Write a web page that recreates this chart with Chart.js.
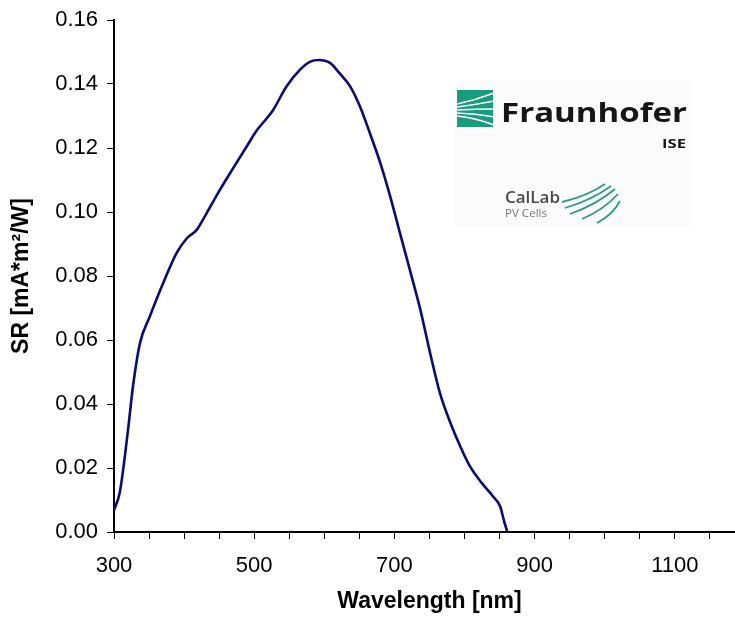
<!DOCTYPE html>
<html>
<head>
<meta charset="utf-8">
<script src="https://cdn.jsdelivr.net/npm/chart.js@4.4.1/dist/chart.umd.min.js"></script>
<style>
  html, body { margin: 0; padding: 0; background: #fff; overflow: hidden; }
  #wrap { width: 759px; height: 617px; }
</style>
</head>
<body>
<div id="wrap"><canvas id="myChart" width="759" height="617"></canvas></div>
<script>
// spectral response
var wavelengths = [300, 308, 313, 320, 327, 337, 351, 370, 389, 404, 418, 432, 451, 470, 489, 504,
  518, 527, 546, 565, 580, 592, 608, 622, 637, 651, 665, 680, 694, 708, 722, 737, 751, 765,
  780, 794, 808, 825, 841, 851, 856, 861];
var srValues = [0.0068, 0.0121, 0.0194, 0.0319, 0.0454, 0.0590, 0.0673, 0.0777, 0.0871, 0.0918,
  0.0944, 0.0996, 0.1069, 0.1137, 0.1204, 0.1256, 0.1293, 0.1319, 0.1392, 0.1444, 0.1470,
  0.1475, 0.1466, 0.1433, 0.1392, 0.1329, 0.1246, 0.1152, 0.1048, 0.0933, 0.0819, 0.0694,
  0.0558, 0.0433, 0.0340, 0.0267, 0.0204, 0.0152, 0.0110, 0.0079, 0.0037, 0.0000];
var xTickLabels = [300, 500, 700, 900, 1100];

var font = '"Liberation Sans", Arial, sans-serif';

var points = wavelengths.map(function(w, i) {
  return { x: w, y: srValues[i] };
});

// draws the Fraunhofer ISE / CalLab logo in the upper right
var logoPlugin = {
  id: 'logo',
  afterDraw: function(chart) {
    var c = chart.ctx;
    c.save();
    c.fillStyle = '#fbfbfb';
    c.fillRect(455, 80, 236, 146);

    // green mark
    c.fillStyle = '#179c7d';
    c.fillRect(457, 90, 36, 37);
    c.save();
    c.beginPath();
    c.rect(457, 90, 36, 37);
    c.clip();
    c.strokeStyle = '#fff';
    c.lineWidth = 1.6;
    for (var i = 0; i < 5; i++) {
      c.beginPath();
      c.moveTo(457, 104 + i * 3);
      c.quadraticCurveTo(476, 100 + i * 4.5, 494, 93 + i * 8);
      c.stroke();
    }
    c.restore();

    function fitText(txt, x, y, w, f, col, align) {
      c.font = f;
      c.fillStyle = col;
      c.textBaseline = 'alphabetic';
      c.textAlign = 'left';
      var m = c.measureText(txt).width;
      var sx = w / m;
      c.save();
      c.translate(align === 'right' ? x - w : x, y);
      c.scale(sx, 1);
      c.fillText(txt, 0, 0);
      c.restore();
    }
    fitText('Fraunhofer', 501, 122, 186, 'bold 27px "Open Sans", sans-serif', '#161616');
    fitText('ISE', 686, 148, 24, 'bold 13px "Open Sans", sans-serif', '#161616', 'right');
    fitText('CalLab', 505, 203, 55, '600 16px "Open Sans", sans-serif', '#4a4a4a');
    fitText('PV Cells', 505, 217, 42, '10px "Open Sans", sans-serif', '#777');

    // CalLab fan
    c.strokeStyle = '#2a9d80';
    c.lineWidth = 1.8;
    var fan = [
      [562, 202, 605, 184],
      [565, 208, 611, 186],
      [570, 214, 615, 189],
      [582, 219, 618, 194],
      [597, 223, 620, 201]
    ];
    fan.forEach(function(f) {
      c.beginPath();
      c.moveTo(f[0], f[1]);
      c.quadraticCurveTo((f[0] + f[2]) / 2 + 4, (f[1] + f[3]) / 2 + 3, f[2], f[3]);
      c.stroke();
    });
    c.restore();
  }
};

new Chart('myChart', {
  type: 'line',
  data: {
    datasets: [{
      data: points,
      borderColor: '#0a0a80',
      borderWidth: 2.6,
      pointRadius: 0,
      fill: false,
      cubicInterpolationMode: 'monotone'
    }]
  },
  options: {
    responsive: false,
    animation: false,
    layout: { padding: { top: 5, right: 0, bottom: 0, left: 0 } },
    plugins: { legend: { display: false }, tooltip: { enabled: false } },
    scales: {
      x: {
        type: 'linear',
        min: 300,
        max: 1200,
        grid: { drawOnChartArea: false, drawTicks: true, tickLength: 7, color: '#000', lineWidth: 1 },
        border: { color: '#000', width: 2 },
        ticks: {
          stepSize: 50,
          autoSkip: false,
          maxRotation: 0,
          padding: 14,
          color: '#000',
          font: { family: font, size: 22 },
          callback: function(v) { return xTickLabels.indexOf(v) >= 0 ? String(v) : ''; }
        },
        title: {
          display: true,
          text: 'Wavelength [nm]',
          color: '#000',
          font: { family: font, size: 23, weight: 'bold' },
          padding: { top: 0, bottom: 2 }
        },
        afterFit: function(s) { s.height = 85; }
      },
      y: {
        min: 0,
        max: 0.16,
        grid: { drawOnChartArea: false, drawTicks: true, tickLength: 7, color: '#000', lineWidth: 1 },
        border: { color: '#000', width: 2 },
        ticks: {
          stepSize: 0.02,
          padding: 9,
          color: '#000',
          font: { family: font, size: 22, lineHeight: 1 },
          callback: function(v) { return v.toFixed(2); }
        },
        title: {
          display: true,
          text: 'SR [mA*m²/W]',
          color: '#000',
          font: { family: font, size: 23, weight: 'bold' },
          padding: { top: 8, bottom: 0 }
        },
        afterFit: function(s) { s.width = 114; }
      }
    }
  },
  plugins: [logoPlugin]
});
</script>
</body>
</html>
